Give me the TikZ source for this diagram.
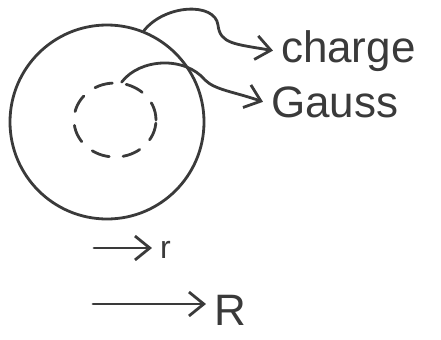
\documentclass[tikz,border=0pt]{standalone}
\usepackage{fontspec}
\setmainfont{Liberation Sans}
\usepackage{tikz}
\usetikzlibrary{arrows.meta,shapes.geometric}
\definecolor{glInk}{HTML}{3A3A3A}
\tikzset{
  gl diagram/.style={x=0.5pt, y=-0.5pt, text=glInk, draw=glInk,
    line cap=round, line join=round, line width=1.4pt},
  gl shell/.style={draw=glInk, circle, line width=1.4pt, inner sep=0pt},
  gl surface/.style={gl shell, ellipse, dash pattern=on 9pt off 7pt},
  gl label/.style={font=\fontsize{22}{26}\selectfont, anchor=base west},
  gl small/.style={gl label, font=\fontsize{16}{19}\selectfont},
  gl arrow/.style={-{Straight Barb[length=2.6mm,width=4.2mm]}, draw=glInk, line width=1.4pt}
}
\begin{document}
\begin{tikzpicture}[gl diagram]
\useasboundingbox (0,0) rectangle (441,339);
% sphere and Gaussian surface
\node[gl shell, minimum size=97pt] (shell) at (107,122) {};
\node[gl surface, minimum width=41pt, minimum height=37pt] (surf) at (115,120) {};
% labels
\node[gl label] (charge) at (273,62) {charge};
\node[gl label] (gauss) at (263,117) {Gauss};
\node[gl small] (r) at (152,258) {r};
\node[gl label] (R) at (206,325) {R};
\coordinate (rtail) at (94,248);
\coordinate (Rtail) at (93,304);
% connectors
\draw[gl arrow] (shell.68) .. controls (165,4) and (215,2) .. (218,25)
  .. controls (220,44) and (235,44) .. (charge.west);
\draw[gl arrow] (surf.80) .. controls (140,58) and (185,56) .. (205,80)
  .. controls (215,90) and (235,92) .. (gauss.west);
\draw[gl arrow] (rtail) -- (r.west |- rtail);
\draw[gl arrow] (Rtail) -- (R.west |- Rtail);
\end{tikzpicture}
\end{document}
